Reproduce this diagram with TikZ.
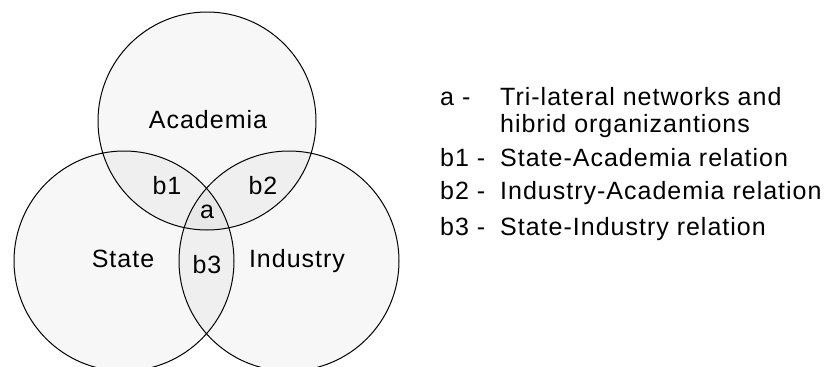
\documentclass[tikz,border=0pt]{standalone}
\usepackage{fontspec}
\setmainfont{Liberation Sans}[LetterSpace=4]
\begin{document}
\begin{tikzpicture}[x=1pt,y=-1pt,
    sector/.style={draw,line width=1pt,fill=black,fill opacity=0.03},
    region/.style={anchor=base,inner sep=0pt,font=\fontsize{25}{30}\selectfont},
    keyitem/.style={anchor=base west,inner sep=0pt,font=\fontsize{25}{30}\selectfont}]
    \useasboundingbox (0,0) rectangle (839,367);

    % the three spheres
    \coordinate (acad) at (207,121);
    \coordinate (state) at (124,261);
    \coordinate (ind) at (289,261);
    \draw[sector] (acad) circle (109);
    \draw[sector] (state) circle (110);
    \draw[sector] (ind) circle (110);

    % region labels
    \node[region] (lacad) at (208,128) {Academia};
    \node[region] (lstate) at (123,267) {State};
    \node[region] (lind) at (297,267) {Industry};
    \node[region] (lb1) at (167,194) {b1};
    \node[region] (lb2) at (263,194) {b2};
    \node[region] (la) at (207,218) {a};
    \node[region] (lb3) at (207,273) {b3};

    % key
    \node[keyitem] (ka) at (440,105) {a -};
    \node[keyitem] (ta) at (500,105) {Tri-lateral networks and};
    \node[keyitem] (ta2) at (500,132) {hibrid organizantions};
    \node[keyitem] (kb1) at (440,166) {b1 -};
    \node[keyitem] (tb1) at (500,166) {State-Academia relation};
    \node[keyitem] (kb2) at (440,199) {b2 -};
    \node[keyitem] (tb2) at (500,199) {Industry-Academia relation};
    \node[keyitem] (kb3) at (440,235) {b3 -};
    \node[keyitem] (tb3) at (500,235) {State-Industry relation};
\end{tikzpicture}
\end{document}
